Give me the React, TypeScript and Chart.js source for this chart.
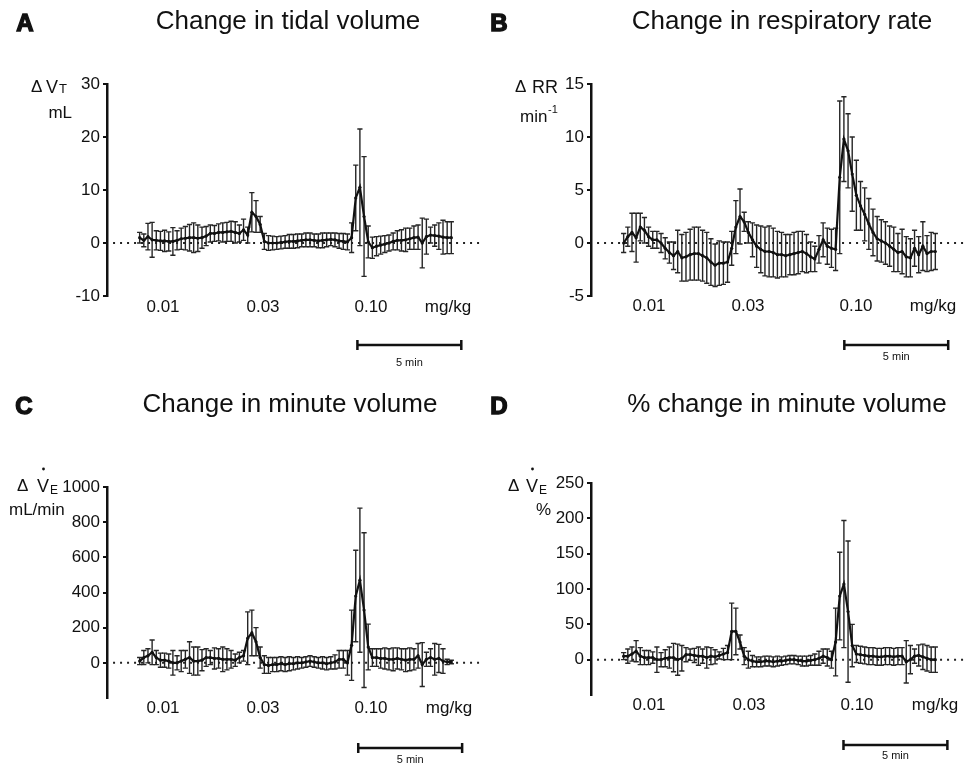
import React, { useEffect, useRef } from "react";
import { Chart, registerables } from "chart.js";

Chart.register(...registerables);

const FONT = '"Liberation Sans", Arial, Helvetica, sans-serif';

// 12-second samples (76 samples ~ 15 min)
const sampleIndex = Array.from({ length: 76 }, (_, i) => i);
const doseLabels = ["0.01", "0.03", "0.10", "mg/kg"];
const scaleBarLabel = "5 min";
const scaleBarSamples = 25; // 5 min at 12 s per sample

// Panel A: change in tidal volume (mL)
const vtMean = [
  1.0, 0.5, 1.2, 0.6, 0.5, 0.4, 0.4, 0.3, 0.3, 0.5,
  0.8, 0.9, 1.0, 1.0, 0.9, 1.0, 1.3, 1.8, 1.8, 2.0,
  2.0, 2.1, 2.2, 2.0, 1.8, 2.5, 1.5, 5.8, 5.0, 3.5,
  0.3, 0.0, 0.0, 0.0, 0.1, 0.2, 0.3, 0.3, 0.4, 0.5,
  0.6, 0.6, 0.5, 0.4, 0.5, 0.6, 0.7, 0.6, 0.4, 0.3,
  0.2, 1.0, 8.5, 10.5, 5.0, 0.2, -0.9, -0.6, -0.4, -0.2,
  0.0, 0.3, 0.5, 0.5, 0.6, 0.8, 1.0, 1.1, 0.0, 1.2,
  1.5, 1.4, 1.3, 1.1, 1.0, 1.0,
];
const vtSem = [
  1.0, 1.2, 2.5, 3.3, 1.8, 1.8, 2.0, 1.8, 2.6, 1.8,
  2.0, 2.2, 2.5, 2.8, 2.5, 2.0, 1.8, 1.6, 1.5, 1.6,
  1.8, 1.8, 1.9, 2.0, 1.6, 2.0, 1.5, 3.7, 3.0, 1.5,
  1.5, 1.4, 1.3, 1.2, 1.2, 1.2, 1.3, 1.3, 1.3, 1.2,
  1.3, 1.3, 1.2, 1.3, 1.4, 1.3, 1.2, 1.3, 1.4, 1.5,
  1.5, 2.8, 6.2, 11.0, 11.3, 3.0, 2.0, 1.8, 1.7, 1.6,
  1.5, 1.6, 1.8, 2.0, 2.2, 2.0, 2.2, 2.3, 4.7, 3.3,
  1.5, 2.0, 2.5, 3.2, 3.0, 3.0,
];

// Panel B: change in respiratory rate (min^-1)
const rrMean = [
  0.0, 0.6, 1.0, 0.5, 1.5, 1.2, 0.6, 0.3, 0.3, 0.0,
  -0.5, -0.9, -1.2, -0.8, -1.4, -1.3, -1.1, -1.0, -1.0, -1.2,
  -1.4, -1.8, -2.1, -1.9, -1.9, -1.8, -0.5, 1.5, 2.5, 2.0,
  1.0, 0.3, -0.3, -0.6, -0.8, -0.8, -0.9, -1.1, -1.1, -1.2,
  -1.1, -1.0, -0.9, -0.8, -1.0, -1.3, -1.5, -0.6, 0.3, -0.3,
  -0.5, -0.6, 6.2, 9.8, 8.7, 6.5, 4.5, 3.5, 2.7, 1.8,
  1.0, 0.4, 0.2, 0.0, -0.3, -0.6, -0.9, -0.8, -1.3, -1.4,
  -0.5, -1.1, -0.3, -1.0, -0.8, -0.8,
];
const rrSem = [
  0.9, 0.9, 1.8, 2.3, 1.3, 1.2, 0.9, 0.8, 0.8, 0.9,
  1.0, 1.0, 1.3, 2.0, 2.2, 2.3, 2.4, 2.5, 2.5, 2.4,
  2.4, 2.2, 2.0, 2.1, 2.0, 1.9, 1.6, 2.5, 2.6, 0.9,
  1.0, 1.6, 2.0, 2.2, 2.3, 2.4, 2.3, 2.2, 2.1, 2.0,
  1.9, 2.0, 2.0, 1.9, 1.8, 1.4, 1.2, 1.3, 1.6, 1.7,
  1.8, 2.0, 7.2, 4.0, 3.5, 3.5, 3.3, 2.3, 2.5, 2.4,
  2.2, 2.1, 2.0, 2.0, 1.9, 2.1, 1.8, 2.1, 1.9, 1.8,
  1.7, 1.7, 2.3, 1.7, 1.8, 1.7,
];

// Panel C: change in minute volume (mL/min)
const veMean = [
  10, 30, 40, 60, 30, 15, 15, 10, 0, 0,
  10, 20, 30, 10, 10, 15, 30, 30, 25, 25,
  20, 20, 20, 15, 30, 40, 140, 170, 120, 30,
  -10, -15, -10, -10, -5, -10, -5, -5, 0, 0,
  5, 10, 5, 0, 0, -5, 0, 5, 20, 20,
  0, 100, 380, 470, 300, 90, 30, 30, 25, 25,
  20, 20, 25, 20, 15, 20, 20, 40, -10, 20,
  30, 20, 25, 10, 5, 5,
];
const veSem = [
  20, 40, 40, 70, 40, 40, 40, 40, 70, 40,
  60, 50, 90, 80, 80, 60, 50, 40, 60, 55,
  70, 60, 50, 35, 30, 30, 150, 130, 80, 60,
  50, 45, 40, 40, 40, 40, 40, 35, 35, 30,
  30, 30, 30, 30, 35, 35, 35, 40, 50, 50,
  70, 200, 260, 410, 440, 130, 50, 50, 55, 60,
  60, 65, 60, 60, 65, 65, 60, 70, 125, 40,
  50, 90, 80, 70, 15, 10,
];

// Panel D: % change in minute volume
const vePctMean = [
  5, 5, 8, 12, 5, 3, 3, 3, 0, 0,
  2, 3, 3, 0, 2, 7, 7, 6, 5, 5,
  3, 5, 4, 6, 8, 10, 40, 40, 25, 5,
  0, -2, -3, -3, -2, -2, -3, -2, -2, -1,
  0, 0, -1, -2, -2, -1, 0, 2, 5, 3,
  0, 25, 90, 107, 68, 20, 8, 7, 6, 5,
  5, 4, 4, 5, 5, 4, 5, 5, -3, 0,
  5, 6, 4, 2, 0, 0,
];
const vePctSem = [
  5, 10, 10, 15, 12, 10, 10, 8, 18, 10,
  12, 15, 20, 22, 18, 10, 8, 10, 13, 10,
  15, 12, 10, 5, 8, 10, 40, 33, 10, 12,
  12, 8, 7, 7, 7, 7, 7, 7, 6, 6,
  6, 6, 6, 7, 7, 7, 8, 10, 10, 12,
  12, 48, 62, 90, 100, 30, 12, 12, 12, 12,
  12, 12, 12, 12, 12, 12, 12, 12, 30, 20,
  10, 15, 18, 18, 18, 18,
];

const W = 484;
const H = 383;
const X_MIN = -7.857;
const X_MAX = 81.9;
const ZERO_FROM = -6.4;
const ZERO_TO = 81.9;

type YLabelFn = (ctx: CanvasRenderingContext2D) => void;

interface Panel {
  key: string;
  letter: string;
  title: string;
  mean: number[];
  sem: number[];
  yMin: number;
  yMax: number;
  yStep: number;
  hideNeg: boolean;
  padTop: number;
  padBottom: number;
  left: number;
  top: number;
  titleX: number;
  titleY: number;
  letterX: number;
  letterY: number;
  doseX: number[];
  doseY: number;
  barStart: number;
  barY: number;
  barTextY: number;
  yLabel: YLabelFn;
}

const font = (size: number, bold = false) => `${bold ? "bold " : ""}${size}px ${FONT}`;

const yLabelA: YLabelFn = (ctx) => {
  ctx.textAlign = "left";
  ctx.font = font(17);
  ctx.fillText("Δ", 31, 92);
  ctx.font = font(18);
  ctx.fillText("V", 46, 93);
  ctx.font = font(13);
  ctx.fillText("T", 59, 93);
  ctx.font = font(17);
  ctx.textAlign = "right";
  ctx.fillText("mL", 72, 118);
};
const yLabelB: YLabelFn = (ctx) => {
  ctx.textAlign = "left";
  ctx.font = font(17);
  ctx.fillText("Δ", 31, 92);
  ctx.font = font(18);
  ctx.fillText("RR", 48, 93);
  ctx.font = font(17);
  ctx.fillText("min", 36, 122);
  ctx.font = font(11);
  ctx.fillText("-1", 64, 113);
};
const yLabelC: YLabelFn = (ctx) => {
  ctx.textAlign = "left";
  ctx.font = font(17);
  ctx.fillText("Δ", 17, 108);
  ctx.font = font(18);
  ctx.fillText("V", 37, 109);
  ctx.beginPath();
  ctx.arc(43.5, 86, 1.4, 0, Math.PI * 2);
  ctx.fill();
  ctx.font = font(12);
  ctx.fillText("E", 50, 111);
  ctx.font = font(17);
  ctx.fillText("mL/min", 9, 132);
};
const yLabelD: YLabelFn = (ctx) => {
  ctx.textAlign = "left";
  ctx.font = font(17);
  ctx.fillText("Δ", 24, 108);
  ctx.font = font(18);
  ctx.fillText("V", 42, 109);
  ctx.beginPath();
  ctx.arc(48.5, 86, 1.4, 0, Math.PI * 2);
  ctx.fill();
  ctx.font = font(12);
  ctx.fillText("E", 55, 111);
  ctx.font = font(17);
  ctx.fillText("%", 52, 132);
};

const panels: Panel[] = [
  {
    key: "A", letter: "A", title: "Change in tidal volume",
    mean: vtMean, sem: vtSem, yMin: -10, yMax: 30, yStep: 10, hideNeg: false,
    padTop: 84, padBottom: 87, left: 0, top: 0,
    titleX: 288, titleY: 29, letterX: 25, letterY: 31,
    doseX: [163, 263, 371, 448], doseY: 312,
    barStart: 52.4, barY: 345, barTextY: 366, yLabel: yLabelA,
  },
  {
    key: "B", letter: "B", title: "Change in respiratory rate",
    mean: rrMean, sem: rrSem, yMin: -5, yMax: 15, yStep: 5, hideNeg: false,
    padTop: 84, padBottom: 87, left: 484, top: 0,
    titleX: 298, titleY: 29, letterX: 15, letterY: 31,
    doseX: [165, 264, 372, 449], doseY: 311,
    barStart: 53.1, barY: 345, barTextY: 360, yLabel: yLabelB,
  },
  {
    key: "C", letter: "C", title: "Change in minute volume",
    mean: veMean, sem: veSem, yMin: -200, yMax: 1000, yStep: 200, hideNeg: true,
    padTop: 104, padBottom: 68, left: 0, top: 383,
    titleX: 290, titleY: 29, letterX: 24, letterY: 31,
    doseX: [163, 263, 371, 449], doseY: 330,
    barStart: 52.6, barY: 365, barTextY: 380, yLabel: yLabelC,
  },
  {
    key: "D", letter: "D", title: "% change in minute volume",
    mean: vePctMean, sem: vePctSem, yMin: -50, yMax: 250, yStep: 50, hideNeg: true,
    padTop: 100, padBottom: 71, left: 484, top: 383,
    titleX: 303, titleY: 29, letterX: 15, letterY: 31,
    doseX: [165, 265, 373, 451], doseY: 327,
    barStart: 52.9, barY: 362, barTextY: 376, yLabel: yLabelD,
  },
];

function makeDecor(p: Panel) {
  return {
    id: "decor" + p.key,
    beforeDatasetsDraw(chart: any) {
      const ctx: CanvasRenderingContext2D = chart.ctx;
      const xs = chart.scales.x;
      const ys = chart.scales.y;
      ctx.save();
      ctx.strokeStyle = "#262626";
      ctx.lineWidth = 1.4;
      p.mean.forEach((m, i) => {
        const x = xs.getPixelForValue(sampleIndex[i]);
        const yt = ys.getPixelForValue(m + p.sem[i]);
        const yb = ys.getPixelForValue(m - p.sem[i]);
        ctx.beginPath();
        ctx.moveTo(x, yt);
        ctx.lineTo(x, yb);
        ctx.moveTo(x - 2.6, yt);
        ctx.lineTo(x + 2.6, yt);
        ctx.moveTo(x - 2.6, yb);
        ctx.lineTo(x + 2.6, yb);
        ctx.stroke();
      });
      ctx.restore();
    },
    afterDraw(chart: any) {
      const ctx: CanvasRenderingContext2D = chart.ctx;
      const xs = chart.scales.x;
      ctx.save();
      ctx.fillStyle = "#111";
      ctx.strokeStyle = "#111";
      ctx.textBaseline = "alphabetic";
      // panel letter
      ctx.textAlign = "center";
      ctx.font = font(24, true);
      ctx.lineWidth = 1.4;
      ctx.fillText(p.letter, p.letterX, p.letterY);
      ctx.strokeText(p.letter, p.letterX, p.letterY);
      // title
      ctx.font = font(26);
      ctx.fillText(p.title, p.titleX, p.titleY);
      // y label
      p.yLabel(ctx);
      // dose labels
      ctx.textAlign = "center";
      ctx.font = font(17);
      doseLabels.forEach((t, i) => ctx.fillText(t, p.doseX[i], p.doseY));
      // scale bar
      const x0 = xs.getPixelForValue(p.barStart);
      const x1 = xs.getPixelForValue(p.barStart + scaleBarSamples);
      ctx.lineWidth = 2.5;
      ctx.beginPath();
      ctx.moveTo(x0, p.barY);
      ctx.lineTo(x1, p.barY);
      ctx.moveTo(x0, p.barY - 5);
      ctx.lineTo(x0, p.barY + 5);
      ctx.moveTo(x1, p.barY - 5);
      ctx.lineTo(x1, p.barY + 5);
      ctx.stroke();
      ctx.font = font(11);
      ctx.fillText(scaleBarLabel, (x0 + x1) / 2, p.barTextY);
      ctx.restore();
    },
  };
}

function buildConfig(p: Panel): any {
  return {
    type: "line",
    data: {
      datasets: [
        {
          data: p.mean.map((y, i) => ({ x: sampleIndex[i], y })),
          borderColor: "#111",
          backgroundColor: "#111",
          borderWidth: 2.2,
          pointRadius: 1.6,
          pointBorderWidth: 0,
          pointBackgroundColor: "#111",
          tension: 0,
          order: 0,
        },
        {
          data: [
            { x: ZERO_FROM, y: 0 },
            { x: ZERO_TO, y: 0 },
          ],
          borderColor: "#222",
          borderWidth: 2,
          borderDash: [2, 5],
          pointRadius: 0,
          order: 1,
        },
      ],
    },
    options: {
      animation: false,
      responsive: false,
      maintainAspectRatio: false,
      layout: { padding: { left: 47, right: 0, top: p.padTop, bottom: p.padBottom } },
      plugins: {
        legend: { display: false },
        tooltip: { enabled: false },
        title: { display: false },
      },
      scales: {
        x: { type: "linear", display: false, min: X_MIN, max: X_MAX },
        y: {
          type: "linear",
          min: p.yMin,
          max: p.yMax,
          afterFit: (s: any) => {
            s.width = 60;
          },
          ticks: {
            stepSize: p.yStep,
            color: "#111",
            padding: 3,
            font: { family: FONT, size: 17 },
            callback: (v: number) => (p.hideNeg && v < 0 ? "" : String(v)),
          },
          grid: {
            display: true,
            drawOnChartArea: false,
            drawTicks: true,
            tickLength: 4,
            lineWidth: 2,
            color: (c: any) =>
              p.hideNeg && c.tick && c.tick.value < 0 ? "rgba(0,0,0,0)" : "#111",
          },
          border: { display: true, color: "#111", width: 2.5 },
        },
      },
    },
    plugins: [makeDecor(p)],
  };
}

function PanelChart({ panel }: { panel: Panel }) {
  const ref = useRef<HTMLCanvasElement | null>(null);
  useEffect(() => {
    if (!ref.current) return;
    const chart = new Chart(ref.current, buildConfig(panel));
    return () => chart.destroy();
  }, [panel]);
  return (
    <canvas
      ref={ref}
      width={W}
      height={H}
      style={{ position: "absolute", left: panel.left, top: panel.top, width: W, height: H }}
    />
  );
}

export default function App() {
  return (
    <div
      style={{
        position: "fixed",
        left: 0,
        top: 0,
        width: 968,
        height: 766,
        background: "#fff",
        overflow: "hidden",
      }}
    >
      {panels.map((p) => (
        <PanelChart key={p.key} panel={p} />
      ))}
    </div>
  );
}
